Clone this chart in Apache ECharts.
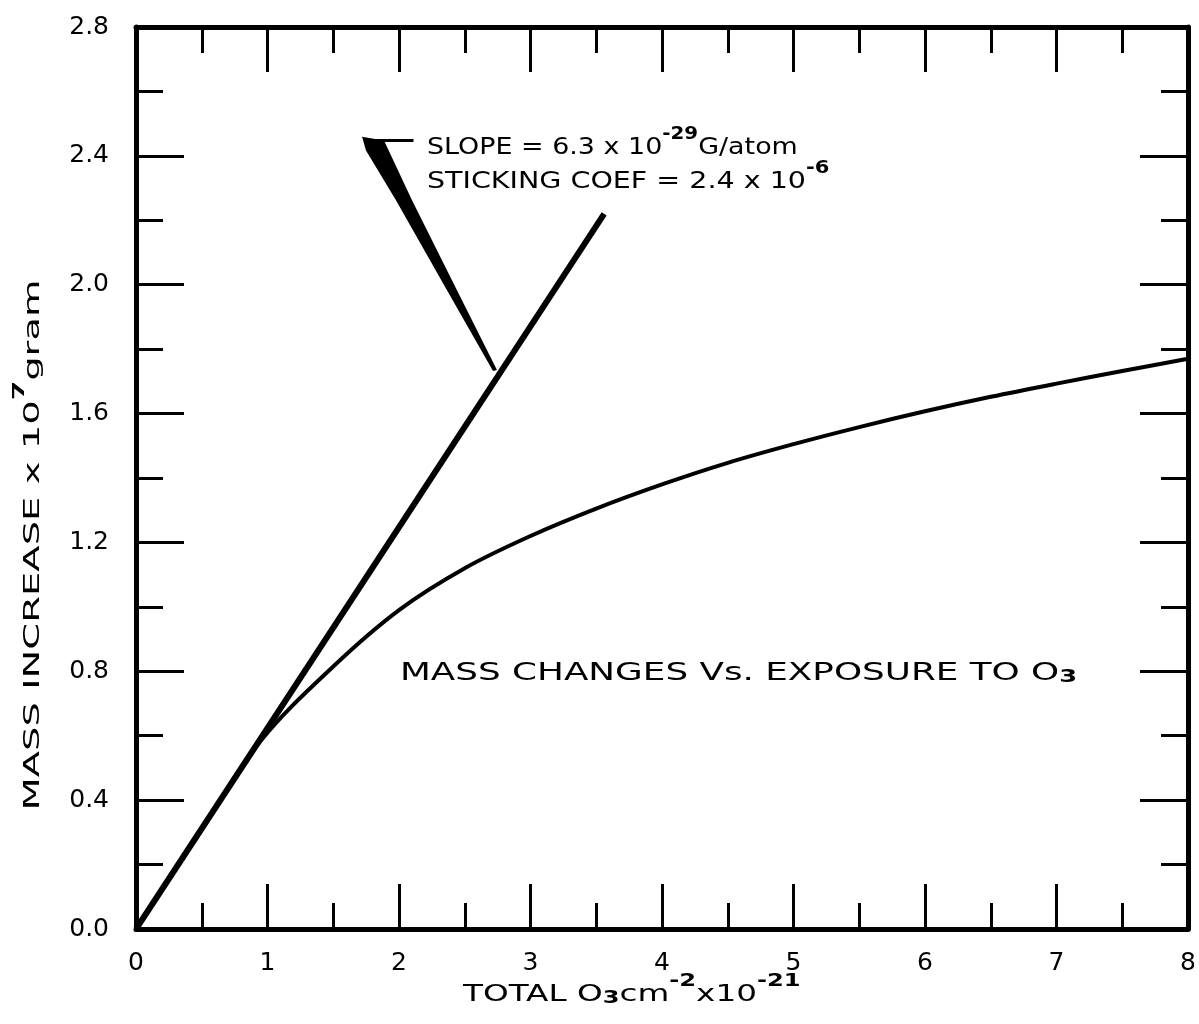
<!DOCTYPE html>
<html><head><meta charset="utf-8">
<script src="https://cdn.jsdelivr.net/npm/echarts@6/dist/echarts.min.js"></script>
<style>html,body{margin:0;padding:0;background:#fff}#c{width:1199px;height:1024px}</style>
</head><body><div id="c"></div>
<script>
// ---- data ----
const xTickValues = [0, 1, 2, 3, 4, 5, 6, 7, 8];
const yTickLabels = ['0.0', '0.4', '0.8', '1.2', '1.6', '2.0', '2.4', '2.8'];
// straight initial-slope line
const slopeX = [0, 3.56];
const slopeY = [0, 2.22];
// measured mass curve
const curveX = [0, 0.5, 0.95, 1.5, 2.0, 2.5, 3.0, 3.5, 4.0, 4.5, 5.0, 5.5, 6.0, 6.5, 7.0, 7.5, 8.0];
const curveY = [0, 0.31, 0.585, 0.815, 0.99, 1.12, 1.22, 1.305, 1.38, 1.447, 1.505, 1.558, 1.607, 1.652, 1.693, 1.732, 1.77];
// annotation pointer wedge (data coordinates)
const pointerX = [1.719, 1.886, 2.099, 2.441, 2.745, 2.715, 2.365, 1.977, 1.749];
const pointerY = [2.459, 2.448, 2.262, 1.983, 1.735, 1.732, 1.983, 2.262, 2.417];
const leaderX = [1.80, 2.11];
const leaderY = [2.448, 2.448];

const FONT = 'DejaVu Sans';
const zip = (a, b) => a.map((v, i) => [v, b[i]]);

const chart = echarts.init(document.getElementById('c'), null, {renderer: 'canvas'});

const axisLine = {show: true, onZero: false, lineStyle: {color: '#000', width: 5}};
function xAx(pos, showLabel) {
  return {
    type: 'value', position: pos, min: 0, max: 8, interval: 1,
    axisLine: axisLine,
    axisTick: {show: true, inside: true, length: 45, lineStyle: {color: '#000', width: 3}},
    minorTick: {show: true, splitNumber: 2, length: 26, lineStyle: {color: '#000', width: 3}},
    splitLine: {show: false}, minorSplitLine: {show: false},
    axisLabel: {show: showLabel, margin: 22, color: '#000', fontFamily: FONT, fontSize: 25,
      formatter: v => String(xTickValues[Math.round(v)])}
  };
}
function yAx(pos, showLabel) {
  return {
    type: 'value', position: pos, min: 0, max: 2.8, interval: 0.4,
    axisLine: axisLine,
    axisTick: {show: true, inside: true, length: 48, lineStyle: {color: '#000', width: 3}},
    minorTick: {show: true, splitNumber: 2, length: 27, lineStyle: {color: '#000', width: 3}},
    splitLine: {show: false}, minorSplitLine: {show: false},
    axisLabel: {show: showLabel, margin: 27, color: '#000', fontFamily: FONT, fontSize: 25,
      formatter: v => yTickLabels[Math.round(v / 0.4)]}
  };
}

function rt(size) {
  return {
    n: {fontFamily: FONT, fontSize: size, fill: '#000', verticalAlign: 'bottom', lineHeight: size * 1.45},
    s: {fontFamily: FONT, fontSize: Math.round(size * 0.72), fontWeight: 'bold', fill: '#000', verticalAlign: 'top', lineHeight: size * 1.45},
    b: {fontFamily: FONT, fontSize: Math.round(size * 0.72), fontWeight: 'bold', fill: '#000', verticalAlign: 'bottom', lineHeight: size * 1.2}
  };
}

const option = {
  backgroundColor: '#fff',
  animation: false,
  grid: {left: 136, right: 11, top: 27, bottom: 95},
  xAxis: [xAx('bottom', true), xAx('top', false)],
  yAxis: [yAx('left', true), yAx('right', false)],
  series: [
    {type: 'line', data: zip(curveX, curveY), smooth: 0.35, showSymbol: false,
      lineStyle: {color: '#000', width: 4}},
    {type: 'line', data: zip(slopeX, slopeY), showSymbol: false,
      lineStyle: {color: '#000', width: 6}},
    {type: 'line', data: zip(leaderX, leaderY), showSymbol: false,
      lineStyle: {color: '#000', width: 3}},
    {type: 'custom', data: [[0, 0]],
      renderItem: (params, api) => ({
        type: 'polygon',
        shape: {points: pointerX.map((x, i) => api.coord([x, pointerY[i]]))},
        style: {fill: '#000'}
      })}
  ],
  graphic: [
    {type: 'text', x: 427, y: 143, scaleX: 1.17, style: {
      text: '{n|SLOPE = 6.3 x 10}{s|-29}{n|G/atom}', align: 'left', verticalAlign: 'middle', rich: rt(23)}},
    {type: 'text', x: 427, y: 177, scaleX: 1.24, style: {
      text: '{n|STICKING COEF = 2.4 x 10}{s|-6}', align: 'left', verticalAlign: 'middle', rich: rt(23)}},
    {type: 'text', x: 400, y: 668, scaleX: 1.43, style: {
      text: '{n|MASS CHANGES Vs. EXPOSURE TO O}{b|3}', align: 'left', verticalAlign: 'middle', rich: rt(25)}},
    {type: 'text', x: 463, y: 990, scaleX: 1.42, style: {
      text: '{n|TOTAL O}{b|3}{n|cm}{s|-2}{n|x10}{s|-21}', align: 'left', verticalAlign: 'middle', rich: rt(23)}},
    {type: 'text', x: 28, y: 545, rotation: Math.PI / 2, scaleX: 1.75, style: {
      text: '{n|MASS INCREASE x 10}{s|7}{n|gram}', align: 'center', verticalAlign: 'middle', rich: rt(22)}}
  ]
};
chart.setOption(option);
</script></body></html>
